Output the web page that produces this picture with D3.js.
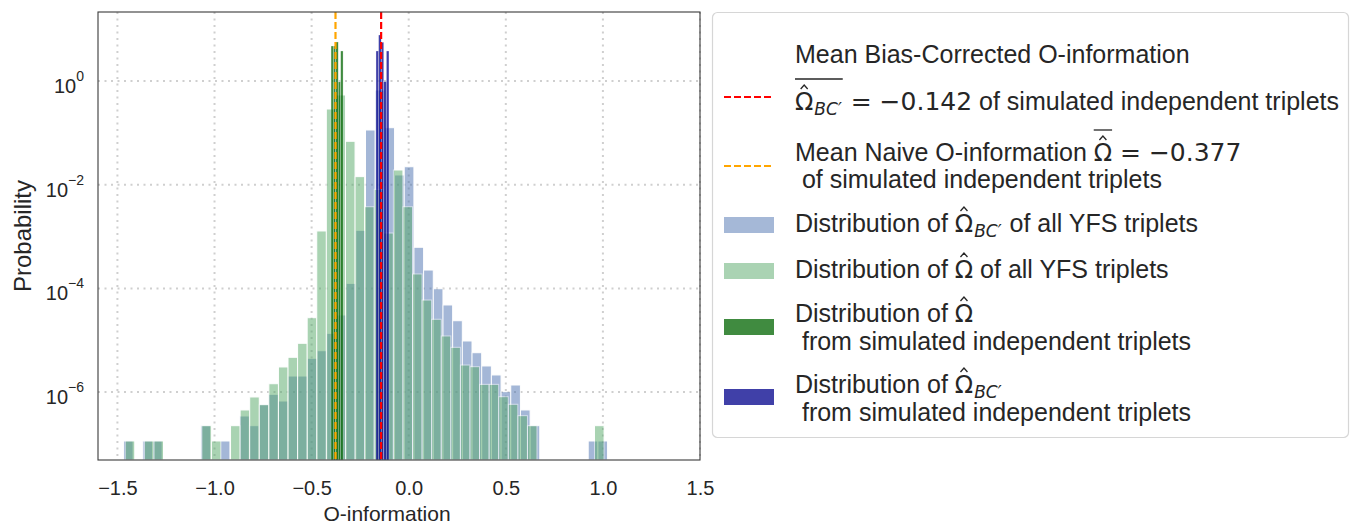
<html lang="en">
<head>
<meta charset="utf-8">
<title>O-information histogram</title>
<script src="https://cdn.jsdelivr.net/npm/d3@7"></script>
<style>
  body { margin: 0; background: #fff; }
  text { fill: #262626; }
</style>
</head>
<body>
<script>
// YFS histograms, 50 bins each over their own range (values = probability)
var bcRange = [-1.469, 1.024];
var naiveRange = [-1.460, 1.006];
var bcYfs = [
  1.14e-7, 0, 1.14e-7, 1.14e-7, 0, 0, 0, 0, 2.25e-7, 0,
  1.14e-7, 0, 3.46e-7, 2.25e-7, 5.72e-7, 9.06e-7, 6.73e-7, 2.04e-6, 2.04e-6, 4.49e-6,
  6.28e-6, 1.36e-5, 3.07e-5, 1.25e-4, 1.32e-3, 0.1135, 0.67, 0.1257, 0.0154, 0.0222,
  6.21e-4, 2.26e-4, 9.86e-5, 4.79e-5, 2.38e-5, 9.68e-6, 5.75e-6, 3.19e-6, 2.14e-6, 1.02e-6,
  1.37e-6, 4.52e-7, 2.25e-7, 0, 0, 0, 0, 0, 1.14e-7, 1.14e-7
];
var naiveYfs = [
  1.14e-7, 0, 1.14e-7, 1.14e-7, 0, 0, 0, 0, 2.25e-7, 1.14e-7,
  0, 2.25e-7, 4.52e-7, 8.05e-7, 5.72e-7, 1.45e-6, 3.05e-6, 4.69e-6, 8.73e-6, 2.72e-5,
  1.28e-3, 0.288, 0.537, 0.0687, 0.0143, 3.76e-3, 8.15e-3, 1.17e-3, 0.0192, 3.76e-3,
  1.90e-4, 5.97e-5, 2.54e-5, 1.21e-5, 7.31e-6, 3.33e-6, 3.09e-6, 1.41e-6, 1.41e-6, 8.15e-7,
  5.82e-7, 3.51e-7, 2.25e-7, 0, 0, 0, 0, 0, 0, 2.25e-7
];

// simulated independent triplets
var simNaiveRange = [-0.400, -0.338];
var simNaive = [4.73, 4.73, 5.65, 0.96, 3.79];
var simBcRange = [-0.1685, -0.1016];
var simBc = [3.79, 7.71, 5.57, 0.97, 3.79];

var meanBc = -0.142;
var meanNaive = -0.377;

var xTicks = [-1.5, -1.0, -0.5, 0.0, 0.5, 1.0, 1.5];
var yTicks = [1e0, 1e-2, 1e-4, 1e-6];

var W = 1351, H = 527;
var pL = 98, pR = 700, pT = 12, pB = 460;

var svg = d3.select("body").append("svg")
    .attr("width", W)
    .attr("height", H)
    .style("font-family", "'Liberation Sans', Arial, sans-serif");

var x = d3.scaleLinear().domain([-1.6, 1.5]).range([pL, pR]);
var y = d3.scaleLog().domain([4.9e-8, 21.4]).range([pB, pT]);

// grid
var grid = svg.append("g");
grid.selectAll("line.vx").data(xTicks).enter().append("line")
    .attr("x1", d => x(d)).attr("x2", d => x(d))
    .attr("y1", pT).attr("y2", pB)
    .attr("stroke", "#cfcfcf").attr("stroke-width", 2)
    .attr("stroke-dasharray", "2,4.5");
grid.selectAll("line.hy").data(yTicks).enter().append("line")
    .attr("x1", pL).attr("x2", pR)
    .attr("y1", d => y(d)).attr("y2", d => y(d))
    .attr("stroke", "#cfcfcf").attr("stroke-width", 2)
    .attr("stroke-dasharray", "2,4.5");

function toBins(vals, range) {
  var n = vals.length, w = (range[1] - range[0]) / n;
  return vals.map(function(v, i) {
    return {x0: range[0] + i * w, x1: range[0] + (i + 1) * w, v: v};
  }).filter(d => d.v > 0);
}

function drawHist(vals, range, color, alpha, edge) {
  svg.append("g").selectAll("rect")
    .data(toBins(vals, range))
    .enter().append("rect")
    .attr("x", d => x(d.x0))
    .attr("width", d => x(d.x1) - x(d.x0))
    .attr("y", d => y(d.v))
    .attr("height", d => pB - y(d.v))
    .attr("fill", color)
    .attr("stroke", "#fff")
    .attr("stroke-width", edge)
    .attr("opacity", alpha);
}

drawHist(bcYfs, bcRange, "#4c72b0", 0.5, 1);
drawHist(naiveYfs, naiveRange, "#55a868", 0.5, 1);
drawHist(simNaive, simNaiveRange, "#006400", 0.75, 0.3);
drawHist(simBc, simBcRange, "#00008b", 0.75, 0.3);

// mean lines
svg.append("line")
    .attr("x1", x(meanNaive)).attr("x2", x(meanNaive))
    .attr("y1", pT).attr("y2", pB)
    .attr("stroke", "orange").attr("stroke-width", 2.2)
    .attr("stroke-dasharray", "7,3");
svg.append("line")
    .attr("x1", x(meanBc)).attr("x2", x(meanBc))
    .attr("y1", pT).attr("y2", pB)
    .attr("stroke", "red").attr("stroke-width", 2.2)
    .attr("stroke-dasharray", "7,3");

// frame
svg.append("rect")
    .attr("x", pL).attr("y", pT)
    .attr("width", pR - pL).attr("height", pB - pT)
    .attr("fill", "none").attr("stroke", "#3a3a3a").attr("stroke-width", 1.1);

// x axis
var xAxis = d3.axisBottom(x).tickValues(xTicks).tickSize(0).tickPadding(21)
    .tickFormat(d3.format(".1f"));
var gX = svg.append("g").attr("transform", "translate(0," + pB + ")").call(xAxis);
gX.select(".domain").remove();
gX.selectAll("text").attr("font-size", 20).attr("fill", "#262626")
    .style("font-family", "'Liberation Sans', Arial, sans-serif");

// y axis tick labels: 10^n
var yLab = svg.append("g");
yTicks.forEach(function(t) {
  var e = Math.round(Math.log10(t));
  var ty = y(t);
  var g = yLab.append("text").attr("text-anchor", "end")
      .attr("x", 84).attr("y", ty + 12).attr("font-size", 20);
  g.append("tspan").text("10");
  g.append("tspan").attr("font-size", 14).attr("dy", -12)
      .text(e === 0 ? "0" : "\u2212" + Math.abs(e));
});

svg.append("text")
    .attr("x", (pL + pR) / 2 - 12).attr("y", 521)
    .attr("text-anchor", "middle").attr("font-size", 21)
    .text("O-information");
svg.append("text")
    .attr("transform", "translate(31," + (pT + pB) / 2 + ") rotate(-90)")
    .attr("text-anchor", "middle").attr("font-size", 24)
    .text("Probability");

// legend
var lg = svg.append("g");
lg.append("rect")
    .attr("x", 712.5).attr("y", 12.5).attr("width", 636).attr("height", 425)
    .attr("rx", 5).attr("fill", "#fff").attr("stroke", "#d6d6d6").attr("stroke-width", 1.2);

var fs = 25;
var sans = "'Liberation Sans', Arial, sans-serif";
var math = "'DejaVu Sans', sans-serif";

function writeLine(x0, base, pieces) {
  var cx = x0;
  pieces.forEach(function(p) {
    if (p.omega) {
      var o = lg.append("text").attr("x", cx).attr("y", base)
          .attr("font-size", fs - 1).style("font-family", math).text("\u03a9");
      var ow = o.node().getComputedTextLength();
      var mid = cx + ow / 2;
      lg.append("path")
          .attr("d", "M" + (mid - 3.5) + "," + (base - 21) + " L" + mid + "," + (base - 25) + " L" + (mid + 3.5) + "," + (base - 21))
          .attr("fill", "none").attr("stroke", "#262626").attr("stroke-width", 1.3);
      var start = cx;
      cx += ow;
      if (p.sub) {
        var s = lg.append("text").attr("x", cx + 1).attr("y", base + 5)
            .attr("font-size", 17).style("font-family", math).style("font-style", "italic")
            .text("BC\u2032");
        cx += s.node().getComputedTextLength() + 2;
      }
      if (p.bar) {
        lg.append("line").attr("x1", start).attr("x2", cx)
            .attr("y1", base - 31).attr("y2", base - 31)
            .attr("stroke", "#262626").attr("stroke-width", 1.3);
      }
    } else {
      var t = lg.append("text").attr("x", cx).attr("y", base)
          .attr("font-size", fs)
          .style("font-family", p.math ? math : sans)
          .style("white-space", "pre")
          .text(p.t);
      cx += t.node().getComputedTextLength();
    }
  });
}

var tx = 795;
writeLine(tx, 63, [{t: "Mean Bias-Corrected O-information"}]);
writeLine(tx, 110, [{omega: true, sub: true, bar: true}, {t: " = \u22120.142", math: true}, {t: " of simulated independent triplets"}]);
writeLine(tx, 161, [{t: "Mean Naive O-information "}, {omega: true, bar: true}, {t: " = \u22120.377", math: true}]);
writeLine(tx, 188, [{t: " of simulated independent triplets"}]);
writeLine(tx, 232, [{t: "Distribution of "}, {omega: true, sub: true}, {t: " of all YFS triplets"}]);
writeLine(tx, 278, [{t: "Distribution of "}, {omega: true}, {t: " of all YFS triplets"}]);
writeLine(tx, 322, [{t: "Distribution of "}, {omega: true}]);
writeLine(tx, 350, [{t: " from simulated independent triplets"}]);
writeLine(tx, 393, [{t: "Distribution of "}, {omega: true, sub: true}]);
writeLine(tx, 421, [{t: " from simulated independent triplets"}]);

// handles
var handles = [
  {type: "line", color: "red", y: 97},
  {type: "line", color: "orange", y: 166},
  {type: "rect", color: "#4c72b0", a: 0.5, y: 225},
  {type: "rect", color: "#55a868", a: 0.5, y: 271},
  {type: "rect", color: "#006400", a: 0.75, y: 327},
  {type: "rect", color: "#00008b", a: 0.75, y: 397}
];
handles.forEach(function(h) {
  if (h.type === "line") {
    lg.append("line").attr("x1", 724).attr("x2", 773).attr("y1", h.y).attr("y2", h.y)
        .attr("stroke", h.color).attr("stroke-width", 2.2).attr("stroke-dasharray", "7,3");
  } else {
    lg.append("rect").attr("x", 724).attr("y", h.y - 8).attr("width", 50).attr("height", 16)
        .attr("fill", h.color).attr("opacity", h.a);
  }
});
</script>
</body>
</html>
